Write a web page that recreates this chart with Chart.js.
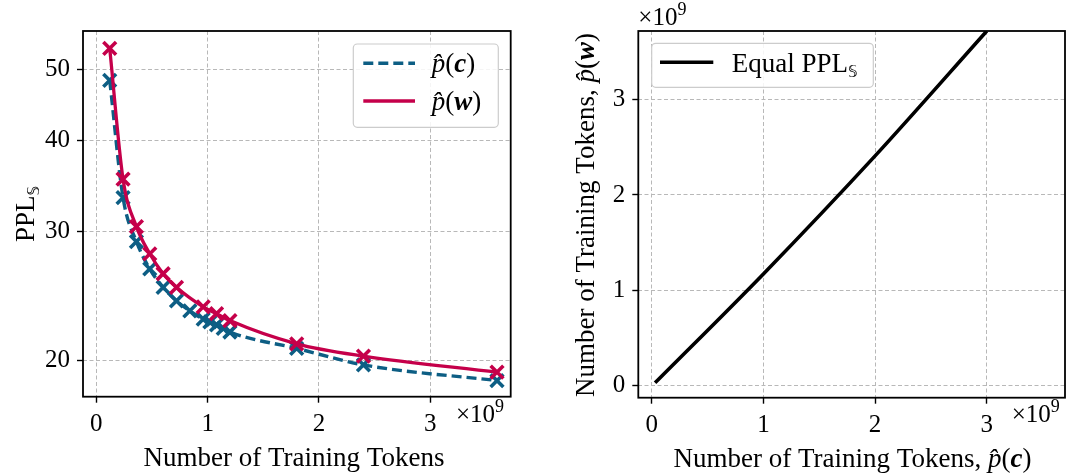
<!DOCTYPE html>
<html><head><meta charset="utf-8">
<script src="https://cdn.jsdelivr.net/npm/chart.js@4.4.1/dist/chart.umd.min.js"></script>
<style>
html,body{margin:0;padding:0;background:#fff;width:1067px;height:473px;overflow:hidden}
#c1{position:absolute;left:0;top:0}
#c2{position:absolute;left:533px;top:0}
</style></head><body>
<canvas id="c1" width="533" height="473"></canvas>
<canvas id="c2" width="534" height="473"></canvas>
<script>
// ---- data (token counts in units of 1e9) ----
const tokensCharE9 = [0.12,0.24,0.36,0.48,0.60,0.72,0.84,0.96,1.02,1.08,1.14,1.20,1.80,2.40,3.60];
const pplChar      = [48.3,33.4,29.1,26.7,25.2,24.15,23.4,22.8,22.6,22.4,22.15,21.9,20.8,19.75,18.8];
const tokensWordE9 = [0.12,0.24,0.36,0.48,0.60,0.72,0.96,1.08,1.20,1.80,2.40,3.60];
const pplWord      = [53.4,35.4,30.5,28.0,26.3,25.2,23.7,23.2,22.7,21.1,20.3,19.3];
const equalCharE9  = [0.03,1.0,2.0,3.0];
const equalWordE9  = [0.03,1.172,2.41,3.72];
const tokenTicks   = [0,1,2,3];
const pplTicks     = [20,30,40,50];
const wordTicks    = [0,1,2,3];

const RED = '#C5004A', BLUE = '#0D5E84';
const SERIF = '"Liberation Serif","DejaVu Serif",serif';
const F = (s, st) => (st ? st + ' ' : '') + s + 'px ' + SERIF;
const DSF = s => s + 'px "DejaVu Sans","DejaVu Serif","Noto Sans",sans-serif';
const LS = 27;

function pts(xs, ys){ return xs.map((x,i)=>({x:x, y:ys[i]})); }

function drawRuns(ctx, runs, x, y, align){
  let w = 0;
  for (const r of runs){ ctx.font = r.font; w += ctx.measureText(r.t).width; }
  let cx = align === 'center' ? x - w/2 : (align === 'right' ? x - w : x);
  ctx.textAlign = 'left'; ctx.textBaseline = 'alphabetic'; ctx.fillStyle = '#000';
  for (const r of runs){ ctx.font = r.font; ctx.fillText(r.t, cx, y + (r.dy||0)); cx += ctx.measureText(r.t).width; }
}
function roundRect(ctx, x, y, w, h, r){
  ctx.beginPath();
  ctx.moveTo(x+r, y); ctx.lineTo(x+w-r, y); ctx.arcTo(x+w, y, x+w, y+r, r);
  ctx.lineTo(x+w, y+h-r); ctx.arcTo(x+w, y+h, x+w-r, y+h, r);
  ctx.lineTo(x+r, y+h); ctx.arcTo(x, y+h, x, y+h-r, r);
  ctx.lineTo(x, y+r); ctx.arcTo(x, y, x+r, y, r); ctx.closePath();
}
const pHat = s => ({t:'p\u0302', font:F(s,'italic')});
const sci = [{t:'\u00d710', font:F(25)}, {t:'9', font:F(18), dy:-10}];

const decor = {
  id:'decor',
  afterDatasetsDraw(chart, args, o){
    const {ctx, chartArea:a} = chart;
    ctx.save();
    ctx.strokeStyle = '#000'; ctx.lineWidth = 1.8; ctx.setLineDash([]);
    ctx.strokeRect(a.left, a.top, a.right-a.left, a.bottom-a.top);
    const L = o.legend;
    roundRect(ctx, L.x, L.y, L.w, L.h, 4);
    ctx.fillStyle = 'rgba(255,255,255,0.85)'; ctx.fill();
    ctx.strokeStyle = '#cccccc'; ctx.lineWidth = 1.2; ctx.stroke();
    for (const it of L.items){
      ctx.beginPath(); ctx.strokeStyle = it.color; ctx.lineWidth = it.lw; ctx.setLineDash(it.dash||[]);
      ctx.moveTo(it.x1, it.y); ctx.lineTo(it.x2, it.y); ctx.stroke();
      ctx.setLineDash([]);
      drawRuns(ctx, it.runs, it.tx, it.ty, 'left');
    }
    for (const t of o.texts){
      ctx.save();
      ctx.translate(t.x, t.y);
      if (t.rot) ctx.rotate(-Math.PI/2);
      drawRuns(ctx, t.runs, 0, 0, t.align);
      ctx.restore();
    }
    ctx.restore();
  }
};

const gridCommon = {color:'#b8b8b8', lineWidth:1, tickLength:6, tickColor:'#000', tickWidth:1.4, tickBorderDash:[]};
const borderCommon = {display:false, dash:[4,2.5]};
const tickFont = {family: SERIF, size: 25};

// ---------- left chart ----------
new Chart(document.getElementById('c1'), {
  type:'scatter',
  data:{ datasets:[
    {label:'p(c) fit', data:pts(tokensCharE9, pplChar), showLine:true, borderColor:BLUE, borderWidth:3.4,
     borderDash:[10,5], pointRadius:0, cubicInterpolationMode:'monotone', order:3},
    {label:'p(c)', data:pts(tokensCharE9, pplChar), showLine:false, pointStyle:'crossRot', pointRadius:9,
     pointBorderWidth:3.6, borderColor:BLUE, backgroundColor:BLUE, order:2},
    {label:'p(w) fit', data:pts(tokensWordE9, pplWord), showLine:true, borderColor:RED, borderWidth:3.3,
     pointRadius:0, cubicInterpolationMode:'monotone', order:1},
    {label:'p(w)', data:pts(tokensWordE9, pplWord), showLine:false, pointStyle:'crossRot', pointRadius:9,
     pointBorderWidth:3.6, borderColor:RED, backgroundColor:RED, order:0}
  ]},
  options:{
    responsive:false, animation:false, events:[],
    layout:{padding:{left:0, right:22.3, top:31, bottom:0}},
    plugins:{ legend:{display:false}, tooltip:{enabled:false},
      decor:{
        legend:{x:353.3, y:44, w:145, h:83.3, items:[
          {color:BLUE, lw:3.4, dash:[10,5], x1:363.3, x2:415, y:63.3, tx:431.7, ty:72,
           runs:[pHat(LS), {t:'(', font:F(LS)}, {t:'c', font:F(LS,'bold italic')}, {t:')', font:F(LS)}]},
          {color:RED, lw:3.4, x1:363.3, x2:415, y:101, tx:431.7, ty:110,
           runs:[pHat(LS), {t:'(', font:F(LS)}, {t:'w', font:F(LS,'bold italic')}, {t:')', font:F(LS)}]}
        ]},
        texts:[
          {x:294, y:466, align:'center', runs:[{t:'Number of Training Tokens', font:F(LS)}]},
          {x:34, y:214, rot:true, align:'center', runs:[{t:'PPL', font:F(LS)}, {t:'\u{1D54A}', font:DSF(15), dy:5}]},
          {x:456, y:421.5, align:'left', runs:sci}
        ]
      }
    },
    scales:{
      x:{type:'linear', min:-0.12, max:3.723,
         afterFit(s){ s.height = 76.3; },
         afterBuildTicks(s){ s.ticks = tokenTicks.map(v=>({value:v})); },
         grid:gridCommon, border:borderCommon,
         ticks:{font:tickFont, color:'#000', padding:7, maxRotation:0, callback:v=>String(v)}},
      y:{type:'logarithmic', min:17.87, max:56.4,
         afterFit(s){ s.width = 83; },
         afterBuildTicks(s){ s.ticks = pplTicks.map(v=>({value:v})); },
         grid:gridCommon, border:borderCommon,
         ticks:{font:tickFont, color:'#000', padding:7, callback:v=>String(v)}}
    }
  },
  plugins:[decor]
});

// ---------- right chart ----------
new Chart(document.getElementById('c2'), {
  type:'scatter',
  data:{ datasets:[
    {label:'Equal PPL', data:pts(equalCharE9, equalWordE9), showLine:true, borderColor:'#000', borderWidth:3.6,
     pointRadius:0, cubicInterpolationMode:'monotone'}
  ]},
  options:{
    responsive:false, animation:false, events:[],
    layout:{padding:{left:0, right:2, top:31, bottom:0}},
    plugins:{ legend:{display:false}, tooltip:{enabled:false},
      decor:{
        legend:{x:118.7, y:43.3, w:221.6, h:44, items:[
          {color:'#000', lw:3.6, x1:127, x2:180.3, y:62.3, tx:198.7, ty:72,
           runs:[{t:'Equal PPL', font:F(LS)}, {t:'\u{1D54A}', font:DSF(15), dy:5}]}
        ]},
        texts:[
          {x:319.5, y:467, align:'center', runs:[{t:'Number of Training Tokens, ', font:F(LS)}, pHat(LS),
            {t:'(', font:F(LS)}, {t:'c', font:F(LS,'bold italic')}, {t:')', font:F(LS)}]},
          {x:61, y:215, rot:true, align:'center', runs:[{t:'Number of Training Tokens, ', font:F(LS)}, pHat(LS),
            {t:'(', font:F(LS)}, {t:'w', font:F(LS,'bold italic')}, {t:')', font:F(LS)}]},
          {x:105.3, y:25, align:'left', runs:sci},
          {x:478.7, y:421.5, align:'left', runs:sci}
        ]
      }
    },
    scales:{
      x:{type:'linear', min:-0.12, max:3.70,
         afterFit(s){ s.height = 75.3; },
         afterBuildTicks(s){ s.ticks = tokenTicks.map(v=>({value:v})); },
         grid:gridCommon, border:borderCommon,
         ticks:{font:tickFont, color:'#000', padding:7, maxRotation:0, callback:v=>String(v)}},
      y:{type:'linear', min:-0.126, max:3.72,
         afterFit(s){ s.width = 105.3; },
         afterBuildTicks(s){ s.ticks = wordTicks.map(v=>({value:v})); },
         grid:gridCommon, border:borderCommon,
         ticks:{font:tickFont, color:'#000', padding:7, callback:v=>String(v)}}
    }
  },
  plugins:[decor]
});
</script>
</body></html>
